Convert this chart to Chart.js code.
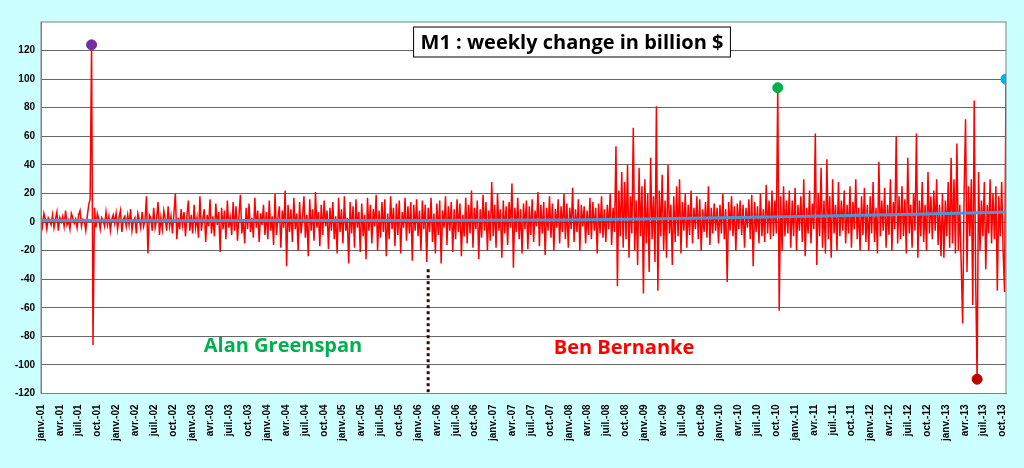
<!DOCTYPE html>
<html>
<head>
<meta charset="utf-8">
<script src="https://cdn.jsdelivr.net/npm/chart.js@4.4.0/dist/chart.umd.min.js"></script>
<style>
  body { margin: 0; background: #ccffff; }
  #wrap { width: 1024px; height: 468px; position: relative; }
</style>
</head>
<body>
<div id="wrap"><canvas id="m1"></canvas></div>
<script>
// Weekly change of M1 (billion $)
const weekly = {
  2001: [4,-3,6,2,-5,3,1,-2,5,-4,2,7,-6,3,0,4,-3,8,-2,1,-5,6,3,-1,2,-4,5,8,-3,2,1,-6,4,12,16,124,-86,10,-4,6,2,-5,3,1,-3,7,-2,4,-6,2,5,-1],
  2002: [6,-5,3,8,-7,2,4,-3,5,-2,9,-6,1,3,-8,6,2,-4,7,-3,1,18,-22,5,3,-6,10,-4,2,14,-9,3,-5,8,2,-6,11,-3,4,-8,6,20,-12,3,-5,9,-2,7,-10,4,15,-6],
  2003: [5,-8,12,-4,3,-11,18,-6,2,9,-14,5,-3,16,-8,4,-10,13,-2,7,-21,10,-5,8,-12,15,-4,3,-9,14,-6,11,-13,4,19,-8,2,-15,10,-5,13,-7,3,-11,17,-4,8,-14,6,-2,12,-9],
  2004: [7,-12,15,-6,4,-16,20,-9,3,11,-18,8,-4,22,-31,12,-7,9,-14,17,-5,6,-20,14,-8,3,18,-11,5,-24,16,-6,9,-13,21,-4,7,-17,12,-9,15,-3,8,-19,10,-6,14,-12,4,-22,17,-7],
  2005: [9,-15,18,-6,3,-29,14,-8,11,-18,16,-4,7,-21,13,-10,5,-26,17,-6,12,-15,9,-3,19,-20,8,-11,14,-7,16,-24,6,-12,18,-5,10,-17,13,-9,15,-22,7,-4,17,-13,11,-8,14,-27,12,-6],
  2006: [16,-10,8,-20,15,-5,12,-28,10,-7,17,-14,6,-22,13,-9,15,-29,8,-4,18,-16,11,-6,14,-21,9,-12,16,-7,13,-24,5,-10,17,-15,12,-8,22,-18,10,-5,15,-26,9,-11,19,-6,14,-20,8,-13],
  2007: [28,-10,12,-18,20,-6,9,-25,15,-8,11,-16,14,-4,27,-32,10,-7,17,-12,9,-22,13,-5,15,-19,11,-9,16,-14,8,-3,21,-17,12,-8,14,-23,10,-6,18,-11,13,-20,9,-4,16,-15,11,-7,20,-12],
  2008: [13,-18,10,-5,24,-14,9,-7,16,-20,12,-3,11,-15,8,-9,17,-12,14,-6,10,-22,13,-8,18,-11,9,-14,12,-5,20,-16,10,-7,53,-45,22,-10,35,-18,28,-12,40,-25,18,-8,66,-20,15,-30,38,-10],
  2009: [25,-50,30,-15,20,-35,45,-12,18,-28,81,-48,22,-10,33,-20,15,-25,40,-8,12,-30,18,-14,25,-10,30,-22,14,-6,20,-18,12,-9,22,-15,10,-5,18,-12,16,-20,9,-7,14,-11,25,-16,10,-8,13,-6],
  2010: [10,-15,12,-8,20,-12,9,-42,14,-6,18,-10,11,-20,13,-5,15,-9,12,-18,10,-4,16,-12,19,-31,14,-7,11,-15,20,-10,9,-14,26,-8,15,-12,22,-10,15,-8,94,-62,18,-20,25,-10,15,-8,22,-18],
  2011: [15,-10,24,-20,12,-6,18,-14,30,-24,10,-8,22,-15,13,-5,62,-30,20,-10,38,-18,15,-22,44,-12,18,-25,30,-8,12,-20,28,-10,15,-6,22,-15,12,-8,25,-18,14,-5,30,-12,10,-20,18,-9,24,-14],
  2012: [12,-20,18,-8,28,-14,10,-22,42,-10,15,-6,24,-18,12,-9,30,-20,14,-5,60,-15,18,-12,25,-10,16,-22,45,-8,12,-18,20,-6,62,-25,15,-10,28,-14,12,-20,35,-8,18,-12,22,-6,30,-16,12,-24],
  2013: [20,-25,15,-10,28,-18,45,-15,30,-22,55,-20,12,-30,-71,20,72,-35,25,-10,30,-58,85,-40,-110,35,-20,15,-10,28,-33,12,-8,30,-15,20,-12,25,-48,18,-10,28,-20,-49,100]
};

// long-run trend (light blue line), read at a few points
const trend = [
  { x: 0, y: 1 }, { x: 156, y: 1 }, { x: 365, y: 1.5 }, { x: 470, y: 3 },
  { x: 560, y: 4.5 }, { x: 650, y: 6.5 }, { x: 669, y: 7 }
];

const points = [];
Object.keys(weekly).forEach(year => {
  weekly[year].forEach(v => points.push({ x: points.length, y: v }));
});
const last = points.length - 1;

// coloured dots on the notable weeks
function peakIn(year, sign) {
  const start = Object.keys(weekly).filter(y => y < year).reduce((n, y) => n + weekly[y].length, 0);
  let best = start;
  weekly[year].forEach((v, i) => { if (v * sign > points[best].y * sign) best = start + i; });
  return points[best];
}
const dots = [
  { p: peakIn(2001, 1), c: '#7030a0' },
  { p: peakIn(2010, 1), c: '#00b050' },
  { p: peakIn(2013, -1), c: '#c00000' },
  { p: points[last], c: '#00b0f0' }
];

const months = ['janv.', 'avr.', 'juil.', 'oct.'];
const quarterTicks = [];
for (let q = 0; q < 52; q++) {
  quarterTicks.push({ value: q * 13.05, label: months[q % 4] + '-' + String(1 + Math.floor(q / 4)).padStart(2, '0') });
}

const decorations = {
  id: 'decorations',
  beforeDraw(chart) {
    const { ctx, chartArea: a } = chart;
    ctx.save();
    ctx.fillStyle = '#ffffff';
    ctx.fillRect(a.left, a.top, a.right - a.left, a.bottom - a.top);
    ctx.restore();
  },
  afterDraw(chart) {
    const { ctx, chartArea: a, scales } = chart;
    ctx.save();
    ctx.strokeStyle = '#808080';
    ctx.lineWidth = 1;
    ctx.strokeRect(a.left, a.top, a.right - a.left, a.bottom - a.top);

    // Greenspan / Bernanke handover
    const xh = scales.x.getPixelForValue(268);
    ctx.strokeStyle = '#3a0a0a';
    ctx.lineWidth = 3;
    ctx.setLineDash([3, 3]);
    ctx.beginPath();
    ctx.moveTo(xh, scales.y.getPixelForValue(-33));
    ctx.lineTo(xh, a.bottom);
    ctx.stroke();
    ctx.setLineDash([]);

    ctx.font = 'bold 20px "Open Sans", sans-serif';
    ctx.textAlign = 'center';
    ctx.textBaseline = 'middle';
    ctx.fillStyle = '#00b050';
    ctx.fillText('Alan Greenspan', 283, 346);
    ctx.fillStyle = '#ff0000';
    ctx.fillText('Ben Bernanke', 624, 348);

    // title box
    const t = 'M1 : weekly change in billion $';
    const w = ctx.measureText(t).width + 14;
    ctx.fillStyle = '#ffffff';
    ctx.fillRect(572 - w / 2, 27, w, 30);
    ctx.strokeStyle = '#000000';
    ctx.lineWidth = 1;
    ctx.strokeRect(572 - w / 2, 27, w, 30);
    ctx.fillStyle = '#000000';
    ctx.fillText(t, 572, 43);
    ctx.restore();
  }
};

new Chart(document.getElementById('m1'), {
  type: 'scatter',
  data: {
    datasets: [
      {
        data: dots.map(d => d.p),
        pointBackgroundColor: dots.map(d => d.c),
        pointBorderColor: dots.map(d => d.c),
        pointRadius: 5,
        showLine: false,
        order: 0
      },
      {
        data: trend,
        showLine: true,
        borderColor: '#4f94d4',
        borderWidth: 3,
        pointRadius: 0,
        tension: 0.4,
        order: 1
      },
      {
        data: points,
        showLine: true,
        borderColor: '#ff0000',
        borderWidth: 1.5,
        pointRadius: 0,
        order: 2
      }
    ]
  },
  options: {
    responsive: true,
    maintainAspectRatio: false,
    animation: false,
    layout: { padding: { top: 22, right: 18, left: 9, bottom: 24 } },
    plugins: { legend: { display: false }, tooltip: { enabled: false } },
    scales: {
      x: {
        type: 'linear',
        min: 0,
        max: last,
        grid: { display: false },
        border: { color: '#808080' },
        afterBuildTicks(axis) { axis.ticks = quarterTicks.map(t => ({ value: t.value })); },
        ticks: {
          autoSkip: false,
          maxRotation: 90,
          minRotation: 90,
          color: '#000',
          font: { size: 10, weight: 'bold', family: 'Arial, "Liberation Sans"' },
          callback: (v, i) => quarterTicks[i].label
        }
      },
      y: {
        min: -120,
        max: 140,
        afterBuildTicks(axis) {
          const t = [];
          for (let v = -120; v <= 120; v += 20) t.push({ value: v });
          axis.ticks = t;
        },
        grid: { color: '#000000', lineWidth: 0.6, drawTicks: false },
        border: { color: '#808080' },
        ticks: {
          padding: 6,
          color: '#000',
          font: { size: 10, weight: 'bold', family: 'Arial, "Liberation Sans"' }
        }
      }
    }
  },
  plugins: [decorations]
});
</script>
</body>
</html>
